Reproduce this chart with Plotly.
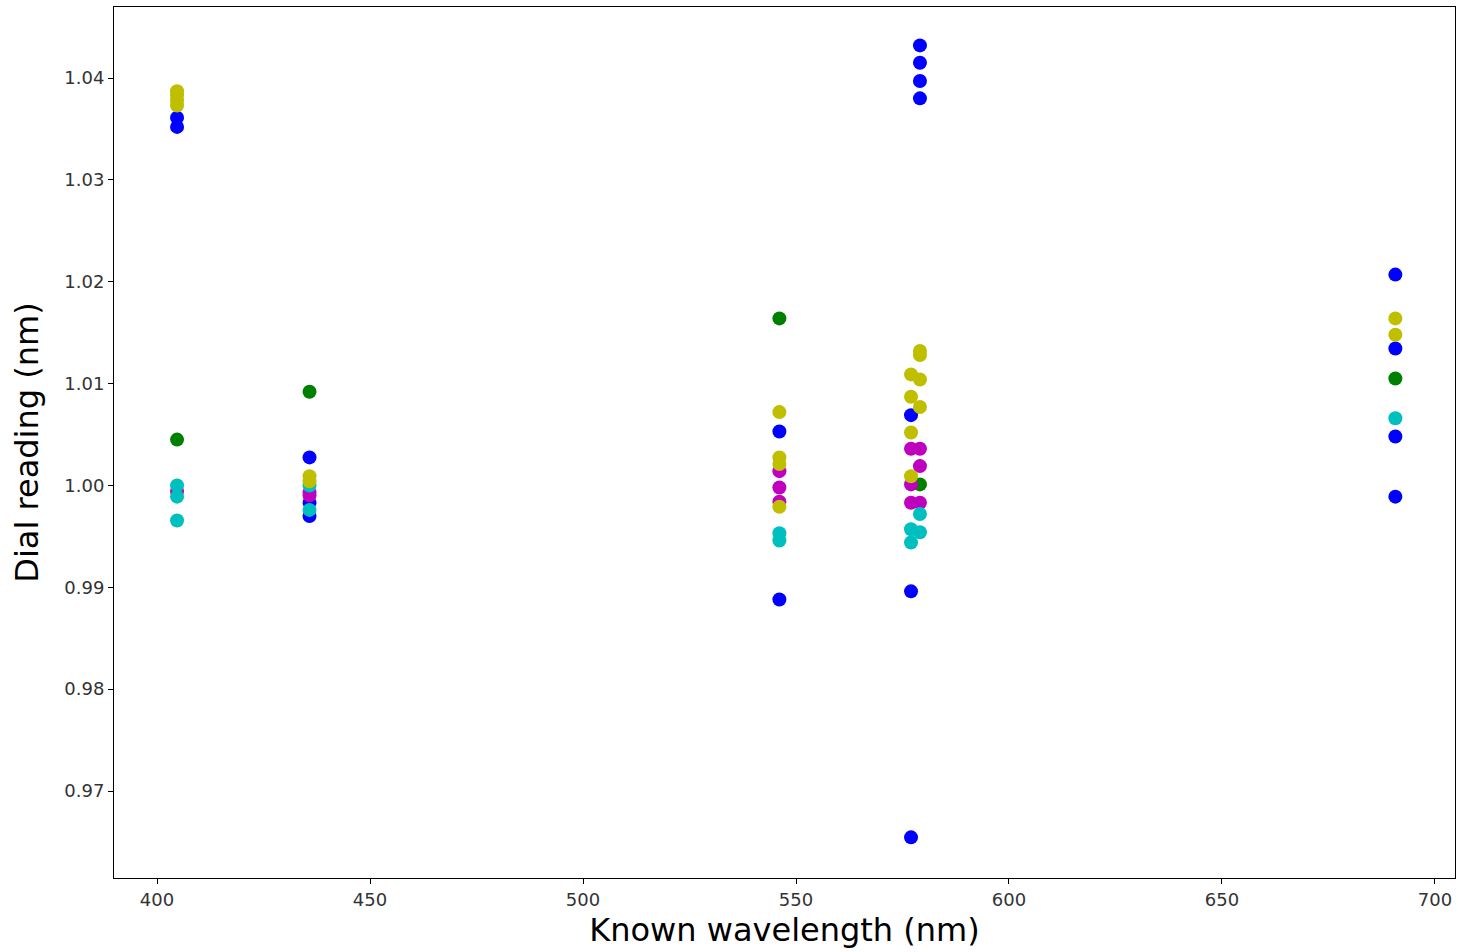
import plotly.graph_objects as go

# Wavelength lines (nm)
blue_x = [404.7, 404.7, 435.8, 435.8, 435.8, 546.1, 546.1, 577.0, 577.0, 577.0,
          579.1, 579.1, 579.1, 579.1, 690.7, 690.7, 690.7, 690.7]
blue_y = [1.0361, 1.0352, 1.00275, 0.9983, 0.9970, 1.0053, 0.9888, 1.0069, 0.9896, 0.96545,
          1.0432, 1.0415, 1.0397, 1.0380, 1.0207, 1.01345, 1.0048, 0.9989]

green_x = [404.7, 435.8, 546.1, 579.1, 690.7]
green_y = [1.0045, 1.0092, 1.0164, 1.0001, 1.0105]

magenta_x = [404.7, 435.8, 435.8, 546.1, 546.1, 546.1, 577.0, 577.0, 577.0, 579.1, 579.1, 579.1]
magenta_y = [0.9994, 0.9990, 0.9993, 1.0014, 0.9998, 0.9984, 1.0036, 1.0001, 0.9983, 1.0036, 1.0019, 0.9983]

cyan_x = [404.7, 404.7, 404.7, 435.8, 435.8, 546.1, 546.1, 577.0, 577.0, 579.1, 579.1, 690.7]
cyan_y = [1.0000, 0.9989, 0.99656, 1.0000, 0.9976, 0.9953, 0.9946, 0.9957, 0.9944, 0.9972, 0.9954, 1.0066]

yellow_x = [404.7, 404.7, 404.7, 404.7, 435.8, 435.8, 546.1, 546.1, 546.1, 546.1,
            577.0, 577.0, 577.0, 577.0, 579.1, 579.1, 579.1, 579.1, 690.7, 690.7]
yellow_y = [1.0387, 1.0383, 1.0378, 1.0373, 1.0009, 1.0004, 1.0072, 1.00275, 1.0021, 0.9979,
            1.0109, 1.0087, 1.0052, 1.0009, 1.0132, 1.0128, 1.0104, 1.0077, 1.0164, 1.0148]

x_ticks = [400, 450, 500, 550, 600, 650, 700]
y_ticks = [0.97, 0.98, 0.99, 1.00, 1.01, 1.02, 1.03, 1.04]
y_tick_text = ["0.97", "0.98", "0.99", "1.00", "1.01", "1.02", "1.03", "1.04"]

series = [
    (blue_x, blue_y, "rgb(0,0,255)"),
    (green_x, green_y, "rgb(0,128,0)"),
    (magenta_x, magenta_y, "rgb(191,0,191)"),
    (cyan_x, cyan_y, "rgb(0,191,191)"),
    (yellow_x, yellow_y, "rgb(191,191,0)"),
]

fig = go.Figure()
for xs, ys, col in series:
    fig.add_trace(go.Scatter(x=xs, y=ys, mode="markers",
                             marker=dict(color=col, size=14, line=dict(width=0)),
                             showlegend=False))

axis_common = dict(showgrid=False, zeroline=False, showline=True, linecolor="black",
                   linewidth=1, mirror=True, ticks="outside", ticklen=5, tickcolor="black",
                   tickfont=dict(family="DejaVu Sans", size=18, color="#333333"))

fig.update_layout(
    width=1458, height=952,
    margin=dict(l=114, r=3, t=7, b=74),
    paper_bgcolor="white", plot_bgcolor="white",
    font=dict(family="DejaVu Sans"),
    xaxis=dict(range=[389.9, 704.7], tickvals=x_ticks,
               title=dict(text="Known wavelength (nm)", font=dict(size=32, color="black"), standoff=10),
               **axis_common),
    yaxis=dict(range=[0.96146, 1.04697], tickvals=y_ticks, ticktext=y_tick_text,
               title=dict(text="Dial reading (nm)", font=dict(size=32, color="black"), standoff=16),
               **axis_common),
)

fig.write_html("out.html")
